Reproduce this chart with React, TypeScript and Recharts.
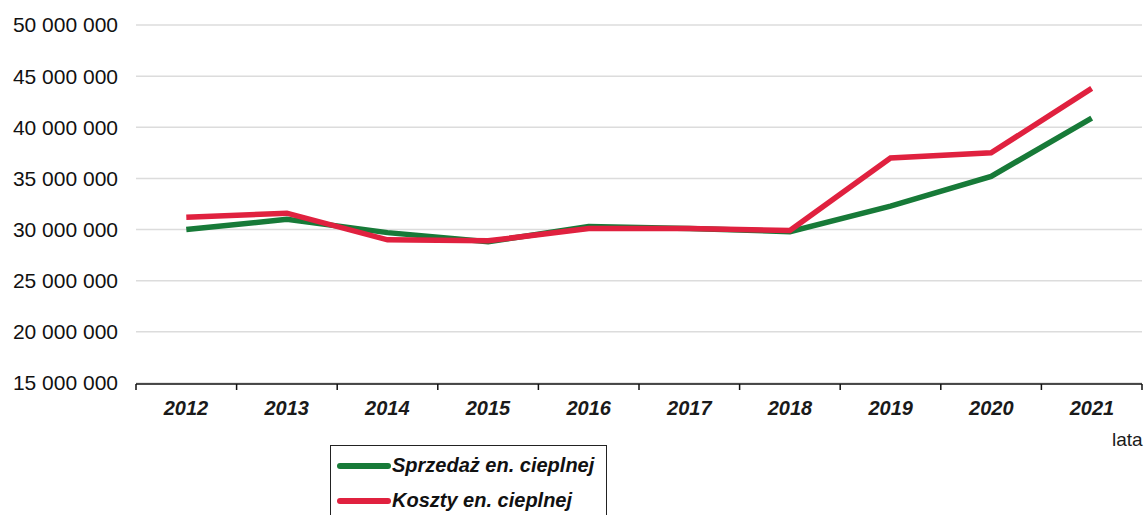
import {
  LineChart,
  Line,
  XAxis,
  YAxis,
  CartesianGrid,
  Legend,
} from 'recharts';

// values (PLN)
const years = ['2012', '2013', '2014', '2015', '2016', '2017', '2018', '2019', '2020', '2021'];
const sprzedaz = [30000000, 31000000, 29700000, 28800000, 30300000, 30100000, 29800000, 32300000, 35200000, 40900000];
const koszty = [31200000, 31600000, 29000000, 28900000, 30100000, 30100000, 29900000, 37000000, 37500000, 43800000];
const yTicks = [15000000, 20000000, 25000000, 30000000, 35000000, 40000000, 45000000, 50000000];
const boundaryTicks = [0, 1, 2, 3, 4, 5, 6, 7, 8, 9, 10];
const legendOrder = ['Sprzedaż en. cieplnej', 'Koszty en. cieplnej'];

const chartData = years.map((year, i) => ({
  year,
  sprzedaz: sprzedaz[i],
  koszty: koszty[i],
}));

// each year sits in the middle of its slot on the numeric axis
const slotCenter = (d: any) => years.indexOf(d.year) + 0.5;

const fmt = (v: number) => v.toLocaleString('en-US').replace(/,/g, ' ');

const FONT = '"Liberation Sans", Arial, sans-serif';

const LegendBox = ({ payload }: any) => {
  const items = [...(payload || [])].sort(
    (a: any, b: any) => legendOrder.indexOf(a.value) - legendOrder.indexOf(b.value)
  );
  return (
    <div
      style={{
        border: '1.5px solid #222',
        borderBottom: 'none',
        width: 277,
        height: 80,
        boxSizing: 'border-box',
        paddingTop: 2,
        fontFamily: FONT,
      }}
    >
      {items.map((p: any) => (
        <div key={p.value} style={{ display: 'flex', alignItems: 'center', height: 35 }}>
          <span
            style={{
              display: 'inline-block',
              width: 54,
              height: 6,
              marginLeft: 6,
              background: p.color,
              borderRadius: 3,
            }}
          />
          <span style={{ fontSize: 20, fontWeight: 'bold', fontStyle: 'italic', color: '#111', marginLeft: 1 }}>
            {p.value}
          </span>
        </div>
      ))}
    </div>
  );
};

export default function App() {
  return (
    <div style={{ position: 'absolute', left: 0, top: 0, width: 1146, height: 515, background: '#fff' }}>
      <LineChart
        width={1146}
        height={515}
        data={chartData}
        margin={{ top: 25, right: 4, bottom: 130, left: 0 }}
      >
        <CartesianGrid xAxisId="num" vertical={false} stroke="#dcdcdc" strokeWidth={1.5} />
        <XAxis
          xAxisId="num"
          dataKey={slotCenter}
          type="number"
          domain={[0, 10]}
          ticks={boundaryTicks}
          allowDataOverflow
          height={1}
          axisLine={{ stroke: '#111', strokeWidth: 1.5 }}
          tickLine={{ stroke: '#111', strokeWidth: 1.5 }}
          tickSize={6}
          tickFormatter={() => ''}
        />
        <XAxis
          dataKey="year"
          height={1}
          padding={{ left: 50, right: 50 }}
          axisLine={false}
          tickLine={false}
          tickSize={0}
          tickMargin={18}
          interval={0}
          tick={{ fontSize: 20, fontWeight: 'bold', fontStyle: 'italic', fill: '#1a1a1a', fontFamily: FONT }}
        />
        <YAxis
          width={136}
          domain={[15000000, 50000000]}
          ticks={yTicks}
          tickFormatter={fmt}
          axisLine={false}
          tickLine={false}
          tickSize={0}
          tickMargin={18}
          tick={{ fontSize: 21, fill: '#111', fontFamily: FONT }}
        />
        <Legend
          layout="vertical"
          align="center"
          verticalAlign="middle"
          wrapperStyle={{ left: 330, top: 445, width: 277 }}
          content={LegendBox}
        />
        <Line
          xAxisId="num"
          dataKey="sprzedaz"
          name="Sprzedaż en. cieplnej"
          stroke="#177a38"
          strokeWidth={5.5}
          dot={false}
          isAnimationActive={false}
        />
        <Line
          xAxisId="num"
          dataKey="koszty"
          name="Koszty en. cieplnej"
          stroke="#e0213f"
          strokeWidth={5.5}
          dot={false}
          isAnimationActive={false}
        />
      </LineChart>
      <span
        style={{
          position: 'absolute',
          left: 1112,
          top: 429,
          fontFamily: FONT,
          fontSize: 19,
          color: '#1a1a1a',
        }}
      >
        lata
      </span>
    </div>
  );
}
